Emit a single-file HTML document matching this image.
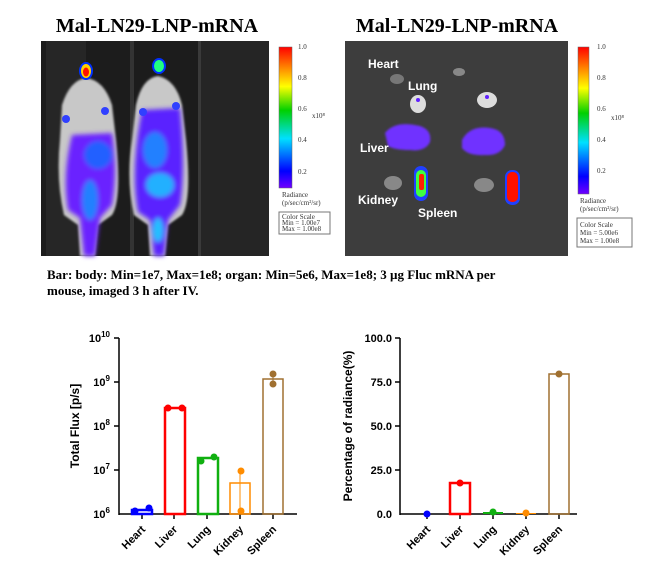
<!DOCTYPE html>
<html><head><meta charset="utf-8"><style>
body{margin:0;background:#fff;width:665px;height:577px;overflow:hidden}
</style></head><body>
<svg width="665" height="577" xmlns="http://www.w3.org/2000/svg" font-family="Liberation Sans, sans-serif">
<defs>
<linearGradient id="cb" x1="0" y1="1" x2="0" y2="0">
<stop offset="0" stop-color="#7000ff"/><stop offset="0.12" stop-color="#0000ff"/><stop offset="0.35" stop-color="#00e0ff"/><stop offset="0.55" stop-color="#00d000"/><stop offset="0.72" stop-color="#ffff00"/><stop offset="0.86" stop-color="#ff8000"/><stop offset="1" stop-color="#ff0000"/>
</linearGradient>
<filter id="bl" x="-20%" y="-20%" width="140%" height="140%"><feGaussianBlur stdDeviation="2.5"/></filter>
<filter id="bl2"><feGaussianBlur stdDeviation="1"/></filter>
</defs>
<text x="157" y="32" font-family="Liberation Serif, serif" font-weight="bold" font-size="20" text-anchor="middle">Mal-LN29-LNP-mRNA</text>
<text x="457" y="32" font-family="Liberation Serif, serif" font-weight="bold" font-size="20" text-anchor="middle">Mal-LN29-LNP-mRNA</text>
<rect x="41" y="41" width="228" height="215" fill="#1c1c1c"/>
<rect x="46" y="41" width="40" height="215" fill="#262626"/>
<rect x="130" y="41" width="4" height="215" fill="#333"/>
<rect x="198" y="41" width="3" height="215" fill="#3a3a3a"/>
<rect x="201" y="41" width="68" height="215" fill="#252525"/>
<g filter="url(#bl2)">
<path d="M62 105 Q70 80 86 78 Q104 80 112 105 L116 140 Q122 200 112 215 L98 225 L95 256 L80 256 L78 225 L64 215 Q56 180 60 140 Z" fill="#c8c8c8"/>
<path d="M136 105 Q142 78 158 76 Q176 80 182 105 L186 140 Q192 200 182 215 L168 225 L165 256 L150 256 L148 225 L134 215 Q126 180 132 140 Z" fill="#c8c8c8"/>
</g>
<g filter="url(#bl)">
<path d="M72 135 L112 133 Q118 170 112 205 L100 218 L95 256 L84 256 L80 218 L68 210 Q62 175 72 135Z" fill="#6a20ff"/>
<path d="M142 110 L180 108 Q186 170 180 205 L168 220 L164 256 L154 256 L150 220 L138 212 Q130 170 142 110Z" fill="#5a20ff"/>
<ellipse cx="98" cy="155" rx="14" ry="14" fill="#2060ff"/>
<ellipse cx="155" cy="150" rx="12" ry="18" fill="#2080ff"/>
<ellipse cx="160" cy="185" rx="14" ry="12" fill="#20b0ff"/>
<ellipse cx="90" cy="200" rx="8" ry="20" fill="#2080ff"/>
<ellipse cx="158" cy="230" rx="5" ry="12" fill="#20c0ff"/>
</g>
<ellipse cx="86" cy="71" rx="7" ry="9" fill="#0030ff"/>
<ellipse cx="86" cy="71" rx="5" ry="7" fill="#ffd000"/>
<ellipse cx="86" cy="72" rx="3" ry="4.5" fill="#ff1000"/>
<ellipse cx="159" cy="66" rx="7" ry="8" fill="#0030ff"/>
<ellipse cx="159" cy="66" rx="5" ry="6" fill="#20ff80"/>
<circle cx="105" cy="111" r="4" fill="#3040ff"/><circle cx="66" cy="119" r="4" fill="#3040ff"/>
<circle cx="143" cy="112" r="4" fill="#3040ff"/><circle cx="176" cy="106" r="4" fill="#3040ff"/>
<rect x="279" y="47" width="13" height="141" fill="url(#cb)" stroke="#666" stroke-width="0.5"/>
<g font-family="Liberation Serif, serif" font-size="7" fill="#333">
<text x="298" y="49">1.0</text><text x="298" y="80">0.8</text><text x="298" y="111">0.6</text><text x="298" y="142">0.4</text><text x="298" y="174">0.2</text>
<text x="312" y="118">x10⁸</text>
<text x="282" y="197">Radiance</text><text x="282" y="205">(p/sec/cm²/sr)</text>
<rect x="279" y="212" width="51" height="22" fill="#fff" stroke="#777"/>
<text x="282" y="219">Color Scale</text><text x="282" y="225">Min = 1.00e7</text><text x="282" y="231">Max = 1.00e8</text>
</g>
<rect x="345" y="41" width="223" height="215" fill="#3d3d3d"/>
<ellipse cx="397" cy="79" rx="7" ry="5" fill="#777"/><ellipse cx="459" cy="72" rx="6" ry="4" fill="#888"/>
<ellipse cx="418" cy="104" rx="8" ry="9" fill="#ddd"/><ellipse cx="487" cy="100" rx="10" ry="8" fill="#ddd"/>
<circle cx="418" cy="100" r="2" fill="#6020ff"/><circle cx="487" cy="97" r="2" fill="#6020ff"/>
<g filter="url(#bl2)">
<path d="M385 133 Q395 120 420 126 Q432 130 430 142 Q425 152 410 150 Q395 150 388 146Z" fill="#7030ff"/>
<path d="M462 140 Q470 125 490 128 Q505 130 505 145 Q500 156 485 155 Q468 156 462 148Z" fill="#7030ff"/>
</g>
<ellipse cx="393" cy="183" rx="9" ry="7" fill="#888"/><ellipse cx="484" cy="185" rx="10" ry="7" fill="#888"/>
<rect x="414" y="166" width="14" height="35" rx="7" fill="#2040ff"/>
<rect x="416" y="170" width="10" height="27" rx="5" fill="#40ff40"/>
<rect x="419" y="174" width="5" height="16" rx="2" fill="#ff2000"/>
<rect x="505" y="170" width="15" height="35" rx="7" fill="#2040ff"/>
<rect x="507" y="172" width="11" height="30" rx="5" fill="#ff1000"/>
<g fill="#fff" font-weight="bold" font-size="12">
<text x="368" y="68">Heart</text><text x="408" y="90">Lung</text><text x="360" y="152">Liver</text><text x="358" y="204">Kidney</text><text x="418" y="217">Spleen</text>
</g>
<rect x="578" y="47" width="11" height="147" fill="url(#cb)" stroke="#666" stroke-width="0.5"/>
<g font-family="Liberation Serif, serif" font-size="7" fill="#333">
<text x="597" y="49">1.0</text><text x="597" y="80">0.8</text><text x="597" y="111">0.6</text><text x="597" y="142">0.4</text><text x="597" y="173">0.2</text>
<text x="611" y="120">x10⁸</text>
<text x="580" y="203">Radiance</text><text x="580" y="211">(p/sec/cm²/sr)</text>
<rect x="577" y="218" width="55" height="29" fill="#fff" stroke="#777"/>
<text x="580" y="227">Color Scale</text><text x="580" y="235">Min = 5.00e6</text><text x="580" y="243">Max = 1.00e8</text>
</g>
<g font-family="Liberation Serif, serif" font-weight="bold" font-size="13">
<text x="47" y="279">Bar: body: Min=1e7, Max=1e8; organ: Min=5e6, Max=1e8; 3 µg Fluc mRNA per</text>
<text x="47" y="295">mouse, imaged 3 h after IV.</text>
</g>
<g stroke="#000" stroke-width="1.5" fill="none">
<line x1="119" y1="338" x2="119" y2="515"/><line x1="119" y1="514" x2="297" y2="514"/>
<line x1="114" y1="338" x2="119" y2="338"/><line x1="114" y1="382" x2="119" y2="382"/><line x1="114" y1="426" x2="119" y2="426"/><line x1="114" y1="470" x2="119" y2="470"/>
<line x1="142" y1="514" x2="142" y2="519"/><line x1="174" y1="514" x2="174" y2="519"/><line x1="207" y1="514" x2="207" y2="519"/><line x1="240" y1="514" x2="240" y2="519"/><line x1="273" y1="514" x2="273" y2="519"/>
</g>
<g font-weight="bold" font-size="11" text-anchor="end">
<text x="110" y="342">10<tspan dy="-5" font-size="8">10</tspan></text>
<text x="110" y="386">10<tspan dy="-5" font-size="8">9</tspan></text>
<text x="110" y="430">10<tspan dy="-5" font-size="8">8</tspan></text>
<text x="110" y="474">10<tspan dy="-5" font-size="8">7</tspan></text>
<text x="110" y="518">10<tspan dy="-5" font-size="8">6</tspan></text>
</g>
<text transform="translate(79,426) rotate(-90)" font-weight="bold" font-size="12" text-anchor="middle">Total Flux [p/s]</text>
<g fill="none" stroke-width="2.5">
<rect x="132" y="510" width="20" height="4" stroke="#0000ff"/>
<rect x="165" y="408" width="20" height="106" stroke="#ff0000"/>
<rect x="198" y="458" width="20" height="56" stroke="#10b010"/>
<rect x="230" y="483" width="20" height="31" stroke="#ff8c00" stroke-width="1.5"/>
<rect x="263" y="379" width="20" height="135" stroke="#a07030" stroke-width="1.5"/>
</g>
<line x1="240" y1="470" x2="240" y2="514" stroke="#ff8c00"/>
<line x1="273" y1="372" x2="273" y2="385" stroke="#a07030"/>
<circle cx="135" cy="511" r="3.5" fill="#0000ff"/><circle cx="149" cy="508" r="3.5" fill="#0000ff"/>
<circle cx="168" cy="408" r="3.5" fill="#ff0000"/><circle cx="182" cy="408" r="3.5" fill="#ff0000"/>
<circle cx="201" cy="461" r="3.5" fill="#10b010"/><circle cx="214" cy="457" r="3.5" fill="#10b010"/>
<circle cx="241" cy="471" r="3.5" fill="#ff8c00"/><circle cx="241" cy="511" r="3.5" fill="#ff8c00"/>
<circle cx="273" cy="374" r="3.5" fill="#a07030"/><circle cx="273" cy="384" r="3.5" fill="#a07030"/>
<g font-weight="bold" font-size="11" text-anchor="end">
<text transform="translate(146,530) rotate(-45)">Heart</text>
<text transform="translate(178,530) rotate(-45)">Liver</text>
<text transform="translate(211,530) rotate(-45)">Lung</text>
<text transform="translate(244,530) rotate(-45)">Kidney</text>
<text transform="translate(277,530) rotate(-45)">Spleen</text>
</g>
<g stroke="#000" stroke-width="1.5" fill="none">
<line x1="400" y1="338" x2="400" y2="515"/><line x1="400" y1="514" x2="577" y2="514"/>
<line x1="395" y1="338" x2="400" y2="338"/><line x1="395" y1="382" x2="400" y2="382"/><line x1="395" y1="426" x2="400" y2="426"/><line x1="395" y1="470" x2="400" y2="470"/>
<line x1="427" y1="514" x2="427" y2="519"/><line x1="460" y1="514" x2="460" y2="519"/><line x1="493" y1="514" x2="493" y2="519"/><line x1="526" y1="514" x2="526" y2="519"/><line x1="559" y1="514" x2="559" y2="519"/>
</g>
<g font-weight="bold" font-size="11" text-anchor="end">
<text x="392" y="342">100.0</text><text x="392" y="386">75.0</text><text x="392" y="430">50.0</text><text x="392" y="474">25.0</text><text x="392" y="518">0.0</text>
</g>
<text transform="translate(352,426) rotate(-90)" font-weight="bold" font-size="12" text-anchor="middle">Percentage of radiance(%)</text>
<rect x="450" y="483" width="20" height="31" fill="none" stroke="#ff0000" stroke-width="2.5"/>
<rect x="483" y="512" width="20" height="2" fill="#10b010"/>
<rect x="516" y="513" width="20" height="1" fill="#ff8c00"/>
<rect x="549" y="374" width="20" height="140" fill="none" stroke="#a07030" stroke-width="1.5"/>
<circle cx="427" cy="514" r="3.5" fill="#0000ff"/>
<circle cx="460" cy="483" r="3.5" fill="#ff0000"/>
<circle cx="493" cy="512" r="3.5" fill="#10b010"/>
<circle cx="526" cy="513" r="3.5" fill="#ff8c00"/>
<circle cx="559" cy="374" r="3.5" fill="#a07030"/>
<g font-weight="bold" font-size="11" text-anchor="end">
<text transform="translate(431,530) rotate(-45)">Heart</text>
<text transform="translate(464,530) rotate(-45)">Liver</text>
<text transform="translate(497,530) rotate(-45)">Lung</text>
<text transform="translate(530,530) rotate(-45)">Kidney</text>
<text transform="translate(563,530) rotate(-45)">Spleen</text>
</g>
</svg>
</body></html>
